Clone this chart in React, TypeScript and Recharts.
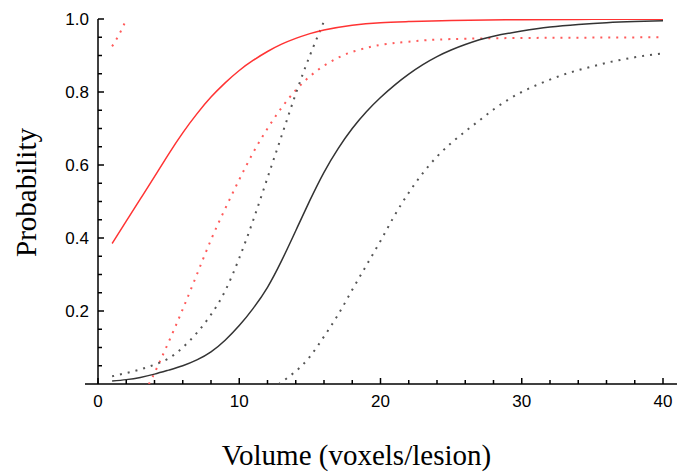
import React from 'react';
import { Label, Line, LineChart, ReferenceLine, XAxis, YAxis } from 'recharts';

// [volume, probability] pairs
const redFit = [
  [1, 0.385], [2, 0.446], [3, 0.507], [4, 0.568], [5, 0.63], [6, 0.688], [7, 0.74],
  [8, 0.786], [9, 0.825], [10, 0.859], [11, 0.887], [12, 0.911], [13, 0.931], [14, 0.947],
  [15, 0.96], [16, 0.97], [18, 0.983], [20, 0.99], [22, 0.993], [25, 0.996],
  [30, 0.998], [35, 0.999], [40, 0.999],
];
const redLower = [
  [3.6, 0], [4, 0.03], [5, 0.115], [6, 0.205], [7, 0.3], [8, 0.395], [9, 0.48],
  [10, 0.56], [11, 0.635], [12, 0.7], [13, 0.757], [14, 0.805], [15, 0.843],
  [16, 0.872], [17, 0.894], [18, 0.91], [19, 0.921], [20, 0.929], [22, 0.938],
  [25, 0.945], [30, 0.948], [35, 0.949], [40, 0.95],
];
const redUpper = [[1, 0.925], [1.5, 0.958], [1.9, 0.99]];

const blackFit = [
  [1, 0.008], [2, 0.012], [3, 0.018], [4, 0.027], [5, 0.038], [6, 0.05], [7, 0.066],
  [8, 0.088], [9, 0.12], [10, 0.16], [11, 0.208], [12, 0.265], [13, 0.338], [14, 0.42],
  [15, 0.503], [16, 0.58], [17, 0.645], [18, 0.7], [19, 0.746], [20, 0.785], [21, 0.819],
  [22, 0.849], [23, 0.875], [24, 0.897], [25, 0.915], [26, 0.93], [27, 0.943],
  [28, 0.953], [30, 0.967], [32, 0.978], [34, 0.985], [36, 0.99], [38, 0.993], [40, 0.995],
];
const blackUpper = [
  [1, 0.021], [2, 0.03], [3, 0.04], [4, 0.053], [5, 0.07], [6, 0.1], [7, 0.14],
  [8, 0.19], [9, 0.255], [10, 0.345], [11, 0.45], [12, 0.565], [13, 0.68], [14, 0.795],
  [15, 0.9], [16.07, 1.0],
];
const blackLower = [
  [12.8, 0], [13, 0.005], [14, 0.035], [15, 0.075], [16, 0.13], [17, 0.19], [18, 0.258],
  [19, 0.325], [20, 0.392], [21, 0.462], [22, 0.524], [23, 0.578], [24, 0.623],
  [25, 0.66], [26, 0.692], [27, 0.722], [28, 0.752], [29, 0.778], [30, 0.8], [31, 0.818],
  [32, 0.834], [33, 0.848], [34, 0.86], [35, 0.87], [36, 0.88], [37, 0.888],
  [38, 0.895], [39, 0.901], [40, 0.906],
];

const xTicks = [0, 2, 4, 6, 8, 10, 12, 14, 16, 18, 20, 22, 24, 26, 28, 30, 32, 34, 36, 38, 40];
const xLabels = [0, 10, 20, 30, 40];
const yTicks = [
  0.05, 0.1, 0.15, 0.2, 0.25, 0.3, 0.35, 0.4, 0.45, 0.5,
  0.55, 0.6, 0.65, 0.7, 0.75, 0.8, 0.85, 0.9, 0.95, 1.0,
];
const yLabels = [0.2, 0.4, 0.6, 0.8, 1.0];

const toPoints = (pairs: number[][]) => pairs.map(([x, y]) => ({ x, y }));

const tickFont = { fontFamily: '"Liberation Sans", Arial, sans-serif', fontSize: 17, fill: '#000' };
const titleFont = { fontFamily: '"Liberation Serif", "Times New Roman", serif', fontSize: 29, fill: '#000' };

const XTick = (props: any) => {
  const { x, y, payload } = props;
  const major = xLabels.includes(payload.value);
  return (
    <g>
      <line x1={x} y1={y} x2={x} y2={y - (major ? 6 : 4)} stroke="#000" strokeWidth={1.5} />
      {major && (
        <text x={x} y={y + 23} textAnchor="middle" {...tickFont}>
          {payload.value}
        </text>
      )}
    </g>
  );
};

const YTick = (props: any) => {
  const { x, y, payload } = props;
  const major = yLabels.some(v => Math.abs(v - payload.value) < 1e-6);
  return (
    <g>
      <line x1={x} y1={y} x2={x + (major ? 6 : 4)} y2={y} stroke="#000" strokeWidth={1.5} />
      {major && (
        <text x={x - 9} y={y} textAnchor="end" dominantBaseline="central" {...tickFont}>
          {payload.value.toFixed(1)}
        </text>
      )}
    </g>
  );
};

const App: React.FC = () => {
  return (
    <div style={{ position: 'absolute', left: 0, top: 0, background: '#fff' }}>
      <LineChart width={683} height={476} margin={{ top: 19, right: 20, bottom: 0, left: 0 }}>
        <XAxis
          type="number"
          dataKey="x"
          domain={[0, 40]}
          allowDataOverflow
          ticks={xTicks}
          interval={0}
          tickSize={0}
          tickMargin={0}
          tick={<XTick />}
          axisLine={false}
          tickLine={false}
          height={92}
        >
          <Label
            content={({ viewBox }: any) => (
              <text x={viewBox.x + viewBox.width / 2 - 24} y={viewBox.y + 81} textAnchor="middle" {...titleFont}>
                Volume (voxels/lesion)
              </text>
            )}
          />
        </XAxis>
        <YAxis
          type="number"
          domain={[0, 1]}
          allowDataOverflow
          ticks={yTicks}
          interval={0}
          tickSize={0}
          tickMargin={0}
          tick={<YTick />}
          tickLine={false}
          axisLine={{ stroke: '#000', strokeWidth: 1.5 }}
          width={98}
        >
          <Label
            content={({ viewBox }: any) => {
              const cx = viewBox.x + 26;
              const cy = viewBox.y + viewBox.height / 2 - 9;
              return (
                <text
                  x={cx}
                  y={cy}
                  textAnchor="middle"
                  dominantBaseline="central"
                  transform={`rotate(-90, ${cx}, ${cy})`}
                  {...titleFont}
                >
                  Probability
                </text>
              );
            }}
          />
        </YAxis>
        <ReferenceLine
          segment={[{ x: -0.92, y: 0 }, { x: 40.99, y: 0 }]}
          ifOverflow="visible"
          stroke="#000"
          strokeWidth={1.5}
        />
        <Line data={toPoints(redUpper)} dataKey="y" type="natural" stroke="#ff5a5a" strokeWidth={2} strokeDasharray="2 6" dot={false} isAnimationActive={false} />
        <Line data={toPoints(redLower)} dataKey="y" type="natural" stroke="#ff5a5a" strokeWidth={2} strokeDasharray="2 6" dot={false} isAnimationActive={false} />
        <Line data={toPoints(blackUpper)} dataKey="y" type="natural" stroke="#555" strokeWidth={2} strokeDasharray="2 6" dot={false} isAnimationActive={false} />
        <Line data={toPoints(blackLower)} dataKey="y" type="natural" stroke="#555" strokeWidth={2} strokeDasharray="2 6" dot={false} isAnimationActive={false} />
        <Line data={toPoints(blackFit)} dataKey="y" type="natural" stroke="#333" strokeWidth={1.5} dot={false} isAnimationActive={false} />
        <Line data={toPoints(redFit)} dataKey="y" type="natural" stroke="#ff3333" strokeWidth={1.5} dot={false} isAnimationActive={false} />
      </LineChart>
    </div>
  );
};

export default App;
